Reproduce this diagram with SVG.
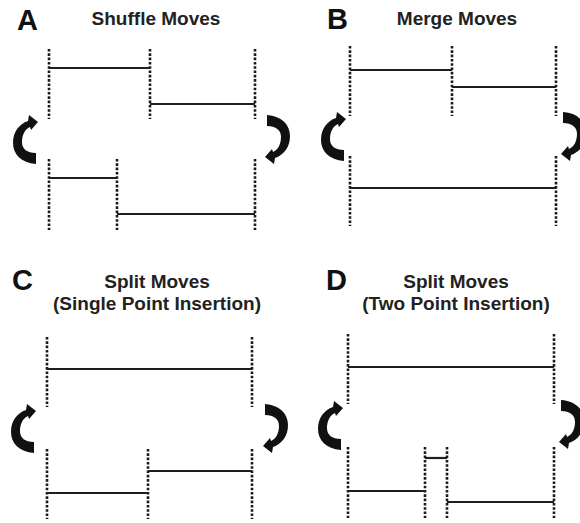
<svg xmlns="http://www.w3.org/2000/svg" width="580" height="523" viewBox="0 0 580 523">
  <style>
    .letter { font-family: "Liberation Sans", Arial, sans-serif; font-weight: bold; font-size: 29px; fill: #111; }
    .title { font-family: "Liberation Sans", Arial, sans-serif; font-weight: bold; font-size: 19px; fill: #222; text-anchor: middle; }
    .bound { stroke: #1a1a1a; stroke-width: 2.6; stroke-dasharray: 2.6 1.7; fill: none; }
    .seg { stroke: #1e1e1e; stroke-width: 2.2; fill: none; }
    .turn { fill: #111; }
  </style>
  <defs>
    <!-- curved move arrow: tail at bottom right, bulges left, head at top pointing right -->
    <path id="turn" d="M23,49 C8,48 0,39 0,28 C0,17 6,9 15,6 L16,0 L25,7 L18,15 L17,12 C12,14 9,20 9,27 C9,34 14,38 23,38 Z"/>
  </defs>

  <!-- Panel A: shuffle -->
  <g id="panel-a">
    <text class="letter" x="17" y="30">A</text>
    <text class="title" x="156" y="25">Shuffle Moves</text>
    <g id="a-bounds">
      <line class="bound" x1="49" y1="49" x2="49" y2="119"/>
      <line class="bound" x1="150" y1="49" x2="150" y2="119"/>
      <line class="bound" x1="255" y1="49" x2="255" y2="119"/>
      <line class="bound" x1="49" y1="159" x2="49" y2="230"/>
      <line class="bound" x1="117" y1="159" x2="117" y2="230"/>
      <line class="bound" x1="255" y1="159" x2="255" y2="230"/>
    </g>
    <g id="a-segments">
      <line class="seg" x1="49" y1="68" x2="150" y2="68"/>
      <line class="seg" x1="150" y1="104" x2="255" y2="104"/>
      <line class="seg" x1="49" y1="178" x2="117" y2="178"/>
      <line class="seg" x1="117" y1="214" x2="255" y2="214"/>
    </g>
    <use href="#turn" class="turn" transform="translate(13,115)"/>
    <use href="#turn" class="turn" transform="translate(290,164) rotate(180)"/>
  </g>

  <!-- Panel B: merge -->
  <g id="panel-b">
    <text class="letter" x="327" y="29">B</text>
    <text class="title" x="457" y="25">Merge Moves</text>
    <g id="b-bounds">
      <line class="bound" x1="350" y1="46" x2="350" y2="116"/>
      <line class="bound" x1="452" y1="46" x2="452" y2="116"/>
      <line class="bound" x1="556" y1="46" x2="556" y2="116"/>
      <line class="bound" x1="350" y1="156" x2="350" y2="226"/>
      <line class="bound" x1="556" y1="156" x2="556" y2="226"/>
    </g>
    <g id="b-segments">
      <line class="seg" x1="350" y1="70" x2="452" y2="70"/>
      <line class="seg" x1="452" y1="87" x2="556" y2="87"/>
      <line class="seg" x1="350" y1="188" x2="556" y2="188"/>
    </g>
    <use href="#turn" class="turn" transform="translate(321,112)"/>
    <use href="#turn" class="turn" transform="translate(586,161) rotate(180)"/>
  </g>

  <!-- Panel C: split, single point insertion -->
  <g id="panel-c">
    <text class="letter" x="12" y="290">C</text>
    <text class="title" x="157" y="288">Split Moves</text>
    <text class="title" x="157" y="310">(Single Point Insertion)</text>
    <g id="c-bounds">
      <line class="bound" x1="47" y1="337" x2="47" y2="407"/>
      <line class="bound" x1="252" y1="337" x2="252" y2="407"/>
      <line class="bound" x1="47" y1="449" x2="47" y2="519"/>
      <line class="bound" x1="148" y1="449" x2="148" y2="519"/>
      <line class="bound" x1="252" y1="449" x2="252" y2="519"/>
    </g>
    <g id="c-segments">
      <line class="seg" x1="47" y1="369" x2="252" y2="369"/>
      <line class="seg" x1="47" y1="493" x2="148" y2="493"/>
      <line class="seg" x1="148" y1="471" x2="252" y2="471"/>
    </g>
    <use href="#turn" class="turn" transform="translate(11,404)"/>
    <use href="#turn" class="turn" transform="translate(288,453) rotate(180)"/>
  </g>

  <!-- Panel D: split, two point insertion -->
  <g id="panel-d">
    <text class="letter" x="326" y="290">D</text>
    <text class="title" x="456" y="288">Split Moves</text>
    <text class="title" x="456" y="310">(Two Point Insertion)</text>
    <g id="d-bounds">
      <line class="bound" x1="348" y1="334" x2="348" y2="404"/>
      <line class="bound" x1="554" y1="334" x2="554" y2="404"/>
      <line class="bound" x1="348" y1="447" x2="348" y2="518"/>
      <line class="bound" x1="425" y1="447" x2="425" y2="518"/>
      <line class="bound" x1="447" y1="447" x2="447" y2="518"/>
      <line class="bound" x1="554" y1="447" x2="554" y2="518"/>
    </g>
    <g id="d-segments">
      <line class="seg" x1="348" y1="367" x2="554" y2="367"/>
      <line class="seg" x1="348" y1="491" x2="425" y2="491"/>
      <line class="seg" x1="425" y1="458" x2="447" y2="458"/>
      <line class="seg" x1="447" y1="502" x2="554" y2="502"/>
    </g>
    <use href="#turn" class="turn" transform="translate(318,401)"/>
    <use href="#turn" class="turn" transform="translate(584,449) rotate(180)"/>
  </g>
</svg>
